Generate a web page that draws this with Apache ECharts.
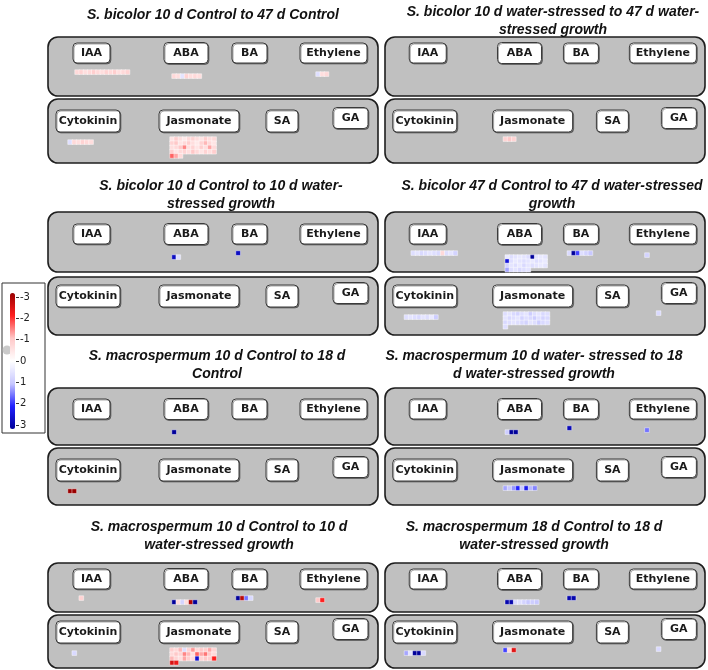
<!DOCTYPE html>
<html>
<head>
<meta charset="utf-8">
<script src="https://cdn.jsdelivr.net/npm/echarts@6/dist/echarts.min.js"></script>
<style>
  html, body { margin: 0; padding: 0; background: #fff; }
  #chart { width: 708px; height: 670px; }
</style>
</head>
<body>
<div id="chart"></div>
<script>
// ========== data ==========
const hormones = ['IAA', 'ABA', 'BA', 'Ethylene', 'Cytokinin', 'Jasmonate', 'SA', 'GA']

const panelTitles = [
  'S. bicolor 10 d Control to 47 d Control',
  'S. bicolor 10 d water-stressed to 47 d water-\nstressed growth',
  'S. bicolor 10 d Control to 10 d water-\nstressed growth',
  'S. bicolor 47 d Control to 47 d water-stressed\ngrowth',
  'S. macrospermum 10 d Control to 18 d\nControl',
  'S. macrospermum 10 d water- stressed to 18\nd water-stressed growth',
  'S. macrospermum 10 d Control to 10 d\nwater-stressed growth',
  'S. macrospermum 18 d Control to 18 d\nwater-stressed growth'
]

// colour scale range (log2 fold change)
const scaleMin = -3
const scaleMax = 3

// one list per hormone, in the order of `hormones`; null = empty slot
const bic10cTo47c = [
  [-0.7, -0.8, -0.6, -0.7, -0.9, -0.7, -0.6, -0.8, -0.7, -0.9, -0.6, -0.7, -0.8],
  [-0.7, -0.6, 0.5, -0.8, -0.6, -0.7, -0.6],
  [],
  [0.6, -0.6, -0.7],
  [0.6, -0.7, -0.6, -0.8, -0.7, -0.6],
  [-0.5, -0.9, -0.6, -0.4, -0.7, -0.8, -0.6, -0.5, -0.9, -0.6, -0.7,
   -0.8, -1.0, -0.5, -0.7, -0.9, -0.6, -0.4, -0.8, -1.1, -0.7, -0.5,
   -0.6, -0.7, -1.0, -1.4, -0.6, -0.8, -0.5, -0.9, -0.6, -1.2, -0.7,
   -0.9, -0.5, -0.7, -0.8, -0.6, -1.0, -0.7, -0.5, -0.8, -0.6, -0.9,
   -1.6, -1.2, -0.7],
  [],
  []
]

const bic10wTo47w = [
  [], [], [], [], [],
  [-0.8, -1.0, -0.8],
  [], []
]

const bic10cTo10w = [
  [],
  [2.6, 0.6],
  [2.6],
  [], [], [], [], []
]

const bic47cTo47w = [
  [0.6, 0.5, 0.7, 0.6, 0.5, 0.6, 0.7, -0.7, 0.6, 0.5, 0.8],
  [0.4, 0.6, 0.5, 0.4, 0.5, 0.6, 3.0, 0.5, 0.4, 0.5,
   2.4, 0.6, 0.4, 0.5, 0.6, 0.5, 0.4, 0.6, 0.5, 0.4,
   0.8, 0.5, 0.6, 0.4, 0.7, 0.5, 0.6, 0.5, 0.4, 0.5,
   1.2, 0.6, 0.5, 0.7, 0.6, 0.5],
  [0.7, 3.0, 1.8, 0.6, 0.8, 1.0],
  [0.8],
  [0.6, 0.5, 0.6, 0.7, 0.5, 0.6, 0.4, 0.9],
  [0.6, 0.5, 0.7, 0.8, 0.6, 0.5, 0.9, 0.6, 0.5, 0.7, 0.6,
   0.5, 0.7, 0.6, 0.5, 0.8, 0.6, 0.7, 0.9, 0.6, 0.8, 0.7,
   0.7, 0.6, 0.5, 0.6, 0.7, 0.8, 0.5, 0.6, 0.9, 0.7, 0.6,
   0.6],
  [],
  [0.7]
]

const mac10cTo18c = [
  [],
  [3.0],
  [], [],
  [-3.0, -3.0],
  [], [], []
]

const mac10wTo18w = [
  [],
  [0.9, 3.0, 3.0],
  [2.7],
  [1.5],
  [],
  [1.2, 1.0, 1.3, 2.0, 1.0, 2.2, 1.1, 1.4],
  [], []
]

const mac10cTo10w = [
  [null, -0.8],
  [3.0, -0.7, 0.8, -0.6, -2.8, 3.0],
  [3.0, -2.7, 1.5, 0.7],
  [-1.0, -2.0],
  [null, 0.7],
  [-0.9, -0.7, -1.1, 0.6, -0.8, -1.3, -0.7, -1.0, -0.9, -1.2, -0.8,
   -0.7, -1.0, -0.8, -1.4, -1.1, -0.6, -1.6, -1.2, -1.5, -1.0, -0.7,
   -1.1, -0.8, -0.6, -1.2, -0.9, -0.7, 2.5, -0.8, -1.0, -0.9, -2.0,
   -2.4, -2.2],
  [],
  []
]

const mac18cTo18w = [
  [],
  [2.8, 2.8, 0.7, 0.6, 0.8, 1.0, 0.9, 1.0],
  [2.8, 2.8],
  [],
  [1.2, 0.5, 3.0, 3.0, 0.7],
  [1.8, -0.7, -2.3],
  [],
  [0.7]
]

const panelValues = [
  bic10cTo47c, bic10wTo47w,
  bic10cTo10w, bic47cTo47w,
  mac10cTo18c, mac10wTo18w,
  mac10cTo10w, mac18cTo18w
]

// ========== layout ==========
const CELL = 4.2
const colBox = [{ x: 48, w: 330 }, { x: 385, w: 320 }]
const rowBox = [
  { top: [37, 96], bottom: [99, 163], topLabel: 53, bottomLabel: 121, title: [15, 12] },
  { top: [212, 272], bottom: [277, 335], topLabel: 234, bottomLabel: 296, title: [186, 186] },
  { top: [388, 445], bottom: [448, 505], topLabel: 409, bottomLabel: 470, title: [356, 356] },
  { top: [563, 612], bottom: [615, 668], topLabel: 579, bottomLabel: 632, title: [527, 527] }
]
const titleX = [213, 553, 221, 552, 217, 534, 219, 534]
// per hormone, in units of the 330px wide box: label box, cell block origin, wrap width
const hormoneLayout = [
  { box: 0, lx: 25, lw: 37, lh: 20, cx: 27, cy: 17, wrap: 13 },
  { box: 0, lx: 116, lw: 44, lh: 21, cx: 124, cy: 21, wrap: 10 },
  { box: 0, lx: 184, lw: 35, lh: 20, cx: 188, cy: 17, wrap: 6 },
  { box: 0, lx: 252, lw: 67, lh: 20, cx: 268, cy: 19, wrap: 5 },
  { box: 1, lx: 8, lw: 64, lh: 22, cx: 20, cy: 19, wrap: 8 },
  { box: 1, lx: 111, lw: 80, lh: 22, cx: 122, cy: 16, wrap: 11 },
  { box: 1, lx: 218, lw: 32, lh: 22, cx: 225, cy: 18, wrap: 4 },
  { box: 1, lx: 285, lw: 35, lh: 21, cx: 280, cy: 18, wrap: 4, dy: -3 }
]

const range = n => Array.from({ length: n }, (_, i) => i)

const graphics = []
const grids = []
const xAxes = []
const yAxes = []
const series = []

panelValues.forEach((vals, p) => {
  const row = rowBox[Math.floor(p / 2)]
  const col = colBox[p % 2]
  const k = col.w / 330

  graphics.push({
    type: 'text', z: 1,
    x: titleX[p], y: row.title[p % 2] - 9,
    style: {
      text: panelTitles[p], fill: '#111', align: 'center', verticalAlign: 'top',
      fontFamily: 'Liberation Sans', fontSize: 14, fontWeight: 'bold', fontStyle: 'italic', lineHeight: 18
    }
  })

  ;[row.top, row.bottom].forEach(([y0, y1]) => {
    graphics.push({
      type: 'rect', z: 0,
      shape: { x: col.x, y: y0, width: col.w, height: y1 - y0, r: 10 },
      style: { fill: '#c0c0c0', stroke: '#1e1e1e', lineWidth: 1.6 }
    })
  })

  hormones.forEach((name, h) => {
    const L = hormoneLayout[h]
    const labY = (L.box ? row.bottomLabel : row.topLabel) + (L.dy || 0)
    const lx = col.x + L.lx * k
    graphics.push({
      type: 'rect', z: 1,
      shape: { x: lx, y: labY - L.lh / 2, width: L.lw, height: L.lh, r: 4 },
      style: { fill: '#fff', stroke: '#3a3a3a', lineWidth: 1, shadowColor: 'rgba(0,0,0,0.35)', shadowOffsetX: 1, shadowOffsetY: 1 }
    })
    graphics.push({
      type: 'text', z: 2,
      x: lx + L.lw / 2, y: labY,
      style: {
        text: name, fill: '#1a1a1a', align: 'center', verticalAlign: 'middle',
        fontFamily: 'DejaVu Sans', fontSize: 11, fontWeight: 'bold'
      }
    })

    const v = vals[h]
    if (!v.length) return
    const ncol = Math.min(L.wrap, v.length)
    const nrow = Math.ceil(v.length / L.wrap)
    const gi = grids.length
    grids.push({ left: col.x + L.cx * k, top: labY + L.cy, width: ncol * CELL, height: nrow * CELL })
    xAxes.push({ type: 'category', gridIndex: gi, data: range(ncol), show: false })
    yAxes.push({ type: 'category', gridIndex: gi, data: range(nrow), inverse: true, show: false })
    series.push({
      type: 'heatmap',
      xAxisIndex: gi,
      yAxisIndex: gi,
      data: v.map((val, i) => [i % L.wrap, Math.floor(i / L.wrap), val]).filter(d => d[2] !== null),
      itemStyle: { borderColor: 'rgba(255,255,255,0.55)', borderWidth: 0.8 },
      emphasis: { disabled: true }
    })
  })
})

const heatmapIndexes = series.map((s, i) => i)

// colour legend: box, tick axis and slider knob
graphics.push({
  type: 'rect', z: 0,
  shape: { x: 2, y: 283, width: 43, height: 150 },
  style: { fill: '#fff', stroke: '#333', lineWidth: 1 }
})
const lg = grids.length
grids.push({ left: 16, top: 297, width: 1, height: 128 })
xAxes.push({ type: 'value', gridIndex: lg, min: 0, max: 1, show: false })
yAxes.push({
  type: 'value', gridIndex: lg, min: scaleMin, max: scaleMax, interval: 1, inverse: true,
  position: 'right',
  axisLine: { show: false },
  axisTick: { show: true, length: 3, lineStyle: { color: '#333' } },
  axisLabel: { fontSize: 10, margin: 3, color: '#222', fontFamily: 'DejaVu Sans' },
  splitLine: { show: false }
})
series.push({
  type: 'scatter', xAxisIndex: lg, yAxisIndex: lg,
  data: [[0, 0]], symbolSize: 9, symbolOffset: [-9, -11],
  itemStyle: { color: '#bdbdbd' }, silent: true
})

const chart = echarts.init(document.getElementById('chart'), null, { renderer: 'canvas' })
chart.setOption({
  animation: false,
  backgroundColor: '#fff',
  graphic: graphics,
  grid: grids,
  xAxis: xAxes,
  yAxis: yAxes,
  visualMap: {
    type: 'continuous',
    seriesIndex: heatmapIndexes,
    min: scaleMin,
    max: scaleMax,
    inverse: true,
    orient: 'vertical',
    left: 10,
    top: 293,
    padding: 0,
    itemWidth: 5,
    itemHeight: 136,
    calculable: false,
    showLabel: false,
    text: null,
    inRange: { color: ['#9a0000', '#ff2020', '#ffc8c8', '#ffffff', '#c8c8ff', '#2020ff', '#00009a'] }
  },
  series: series
})
</script>
</body>
</html>
